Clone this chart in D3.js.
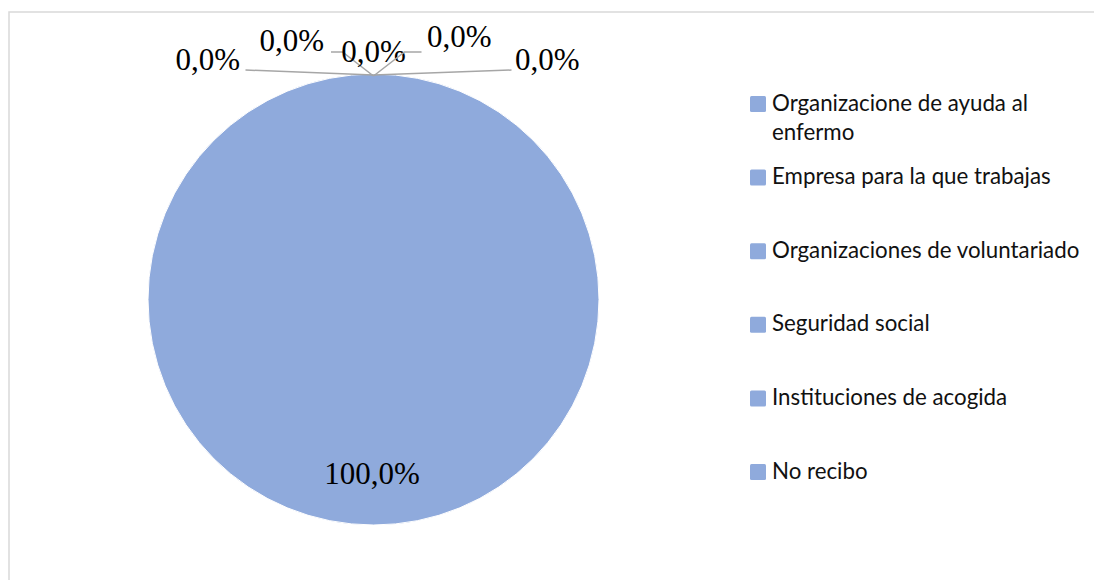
<!DOCTYPE html>
<html>
<head>
<meta charset="utf-8">
<script src="https://cdn.jsdelivr.net/npm/d3@7"></script>
<style>
  html, body { margin: 0; padding: 0; background: #fff; }
  svg { display: block; }
</style>
</head>
<body>
<svg id="chart" width="1094" height="580"></svg>
<script>
// Source of support received (share of respondents)
const categories = [
  "Organizacione de ayuda al enfermo",
  "Empresa para la que trabajas",
  "Organizaciones de voluntariado",
  "Seguridad social",
  "Instituciones de acogida",
  "No recibo"
];
const shares = [0, 0, 0, 0, 0, 100];

const W = 1094, H = 580;
const cx = 373.5, cy = 299.5, R = 225.5;
const sliceColor = "#8faadc";

const svg = d3.select("#chart");

// chart area frame
svg.append("rect")
  .attr("x", 9).attr("y", 12)
  .attr("width", W + 20).attr("height", H + 20)
  .attr("fill", "#fff")
  .attr("stroke", "#d9d9d9")
  .attr("stroke-width", 1.5);

const locale = d3.formatLocale({ decimal: ",", thousands: ".", grouping: [3], currency: ["", "€"] });
const fmt = v => locale.format(".1f")(v) + "%";

const total = d3.sum(shares);
const data = categories.map((c, i) => ({ name: c, value: shares[i], pct: shares[i] / total * 100 }));

const pie = d3.pie().value(d => d.value).sort(null).startAngle(0).endAngle(2 * Math.PI);
const arcs = pie(data);
const arc = d3.arc().innerRadius(0).outerRadius(R);

const g = svg.append("g").attr("transform", `translate(${cx},${cy})`);

g.selectAll("path.slice")
  .data(arcs)
  .join("path")
  .attr("class", "slice")
  .attr("d", arc)
  .attr("fill", sliceColor)
  .attr("stroke", "#fff")
  .attr("stroke-width", 1);

// Labels for empty slices are fanned out above the pie's rim, with leader lines
// back to the point where the slice sits (offsets relative to that point).
const fan = [
  { anchor: "end",    dx: -133.5, dy: -4,  line: [[0, 1], [-128, -4]] },
  { anchor: "end",    dx: -49.5,  dy: -23, line: [[0, 2], [-31, -22], [-42.5, -22]] },
  { anchor: "middle", dx: 0,      dy: -12, line: null },
  { anchor: "start",  dx: 53.5,   dy: -27, line: [[0, 2], [31, -22], [48, -22]] },
  { anchor: "start",  dx: 141.5,  dy: -4,  line: [[0, 1], [138, -4]] }
];

const labelFont = "'Liberation Serif', 'Times New Roman', serif";
const labelSize = 31;
let fanIdx = 0;

arcs.forEach(a => {
  const ang = (a.startAngle + a.endAngle) / 2;
  if (a.data.value === 0) {
    const spot = fan[fanIdx++ % fan.length];
    const px = Math.sin(ang) * R, py = -Math.cos(ang) * R;
    if (spot.line) {
      g.append("path")
        .attr("d", d3.line()(spot.line.map(p => [px + p[0], py + p[1]])))
        .attr("fill", "none")
        .attr("stroke", "#a6a6a6")
        .attr("stroke-width", 1.5);
    }
    g.append("text")
      .attr("x", px + spot.dx)
      .attr("y", py + spot.dy)
      .attr("text-anchor", spot.anchor)
      .attr("font-family", labelFont)
      .attr("font-size", labelSize)
      .attr("fill", "#000")
      .text(fmt(a.data.pct));
  } else {
    const lr = R * 0.77;
    g.append("text")
      .attr("x", Math.sin(ang) * lr - 1.5)
      .attr("y", -Math.cos(ang) * lr + 11)
      .attr("text-anchor", "middle")
      .attr("font-family", labelFont)
      .attr("font-size", labelSize)
      .attr("fill", "#000")
      .text(fmt(a.data.pct));
  }
});

// legend
const legendX = 750, sq = 16, textX = 772, maxTextW = 312;
const ly = d3.scaleLinear().domain([0, categories.length - 1]).range([103, 471]);
const legend = svg.append("g");

categories.forEach((c, i) => {
  const y = ly(i);
  legend.append("rect")
    .attr("x", legendX).attr("y", y - sq / 2 + 1)
    .attr("width", sq).attr("height", sq)
    .attr("rx", 1.5)
    .attr("fill", sliceColor);
  const t = legend.append("text")
    .attr("x", textX).attr("y", y + 7.5)
    .attr("font-family", "Lato, 'Noto Sans', sans-serif")
    .attr("font-size", 22.3)
    .attr("fill", "#111");
  // wrap long entries onto a second line
  const words = c.split(" ");
  let line = [], tspan = t.append("tspan").attr("x", textX).attr("dy", 0);
  words.forEach(w => {
    line.push(w);
    tspan.text(line.join(" "));
    if (tspan.node().getComputedTextLength() > maxTextW && line.length > 1) {
      line.pop();
      tspan.text(line.join(" "));
      line = [w];
      tspan = t.append("tspan").attr("x", textX).attr("dy", 29).text(w);
    }
  });
});
</script>
</body>
</html>
